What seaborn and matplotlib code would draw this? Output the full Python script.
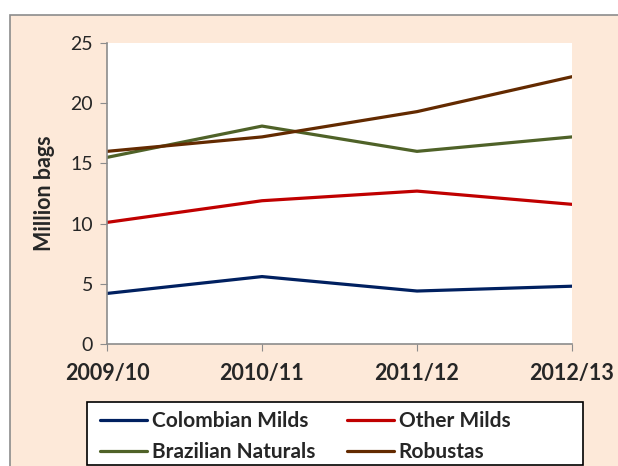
import pandas as pd
import seaborn as sns
import matplotlib.pyplot as plt
from matplotlib.patches import Rectangle

# Valores (milhões de sacas)
seasons = ['2009/10', '2010/11', '2011/12', '2012/13']
colombian_milds = [4.2, 5.6, 4.4, 4.8]
other_milds = [10.1, 11.9, 12.7, 11.6]
brazilian_naturals = [15.5, 18.1, 16.0, 17.2]
robustas = [16.0, 17.2, 19.3, 22.2]

groups = ['Colombian Milds', 'Other Milds', 'Brazilian Naturals', 'Robustas']
colors = ['#002060', '#C00000', '#4F6228', '#632A00']

df = pd.DataFrame({
    'season': seasons * 4,
    'pos': list(range(len(seasons))) * 4,
    'value': colombian_milds + other_milds + brazilian_naturals + robustas,
    'group': [g for g in groups for _ in seasons],
})

sns.set_style('white')
plt.rcParams['font.family'] = ['Lato', 'DejaVu Sans']

W, H = 618, 466
fig = plt.figure(figsize=(W / 100, H / 100), dpi=100, facecolor='white')

# fundo pêssego com borda cinza
fig.patches.append(Rectangle((10 / W, -0.1), 1.2, 1.1 - 15 / H,
                             transform=fig.transFigure, facecolor='#FDE9D9',
                             edgecolor='#8C8C8C', linewidth=1.2, zorder=-1))

ax = fig.add_axes([107 / W, (H - 344) / H, (572 - 107) / W, (344 - 43) / H])
ax.set_facecolor('white')

sns.lineplot(data=df, x='pos', y='value', hue='group', hue_order=groups,
             palette=colors, linewidth=2.3, ax=ax, legend=True)

ax.set_xlim(0, 3)
ax.set_ylim(0, 25)
ax.set_yticks([0, 5, 10, 15, 20, 25])
ax.set_xticks(range(len(seasons)))
ax.set_xticklabels(seasons, fontweight='bold', fontsize=15.5)
ax.tick_params(axis='y', labelsize=14, length=5, color='#8C8C8C', direction='out', left=True, pad=5)
ax.tick_params(axis='x', length=5, color='#8C8C8C', direction='out', bottom=True, pad=9)
ax.set_xlabel('')
ax.set_ylabel('Million bags', fontweight='bold', fontsize=15.5, labelpad=11)

for side in ['top', 'right']:
    ax.spines[side].set_visible(False)
for side in ['left', 'bottom']:
    ax.spines[side].set_color('#8C8C8C')
    ax.spines[side].set_linewidth(1.2)

# caixa da legenda (branca, borda preta)
fig.patches.append(Rectangle((87 / W, 1 - 465 / H), (583 - 87) / W, 63 / H,
                             transform=fig.transFigure, facecolor='white',
                             edgecolor='black', linewidth=1.2, zorder=1))

# legenda preenchida por linhas: reordenar para ncol=2
handles, labels = ax.get_legend_handles_labels()
ax.get_legend().remove()
order = [0, 2, 1, 3]
leg = fig.legend([handles[i] for i in order], [labels[i] for i in order], ncol=2,
                 loc='upper left', bbox_to_anchor=(100 / W, 1 - 411 / H),
                 frameon=False,
                 prop={'weight': 'bold', 'size': 15}, handlelength=2.25,
                 handletextpad=0.25, columnspacing=1.5, labelspacing=0.55,
                 borderpad=0, borderaxespad=0)
leg.set_zorder(5)
for line in leg.get_lines():
    line.set_linewidth(2.3)

fig.savefig('out.png', dpi=100, facecolor='white')
